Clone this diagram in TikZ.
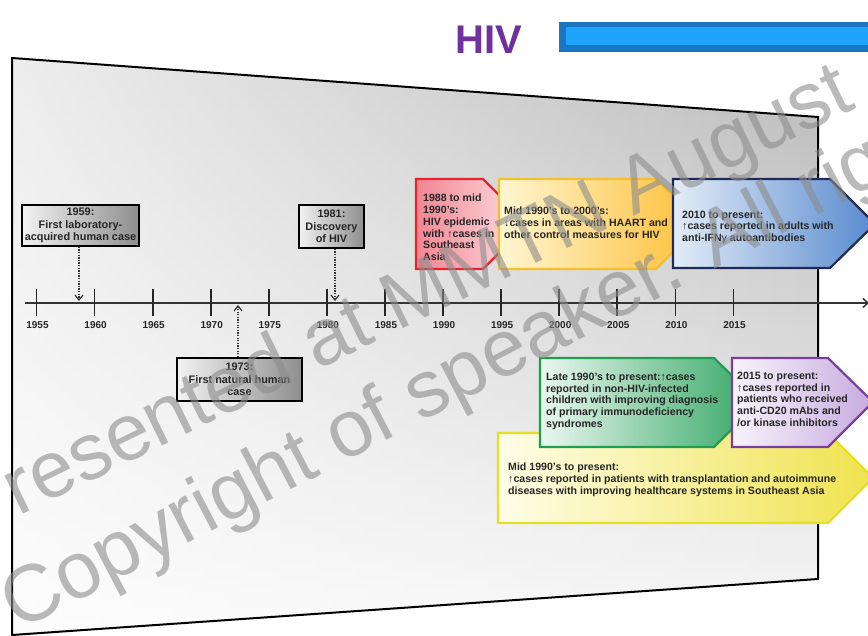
\documentclass[tikz,border=0pt]{standalone}
\usepackage{fontspec}
\setmainfont{Liberation Sans}
\usetikzlibrary{arrows.meta,fadings}
\definecolor{hivpurple}{HTML}{7030A0}
\definecolor{barDark}{HTML}{1B76C2}
\definecolor{barLight}{HTML}{1EA2FA}
\definecolor{txt}{HTML}{262626}
\definecolor{boxL}{HTML}{F2F2F2}
\definecolor{boxR}{HTML}{8E8E8E}
\definecolor{redB}{HTML}{E3262F}\definecolor{redL}{HTML}{F28593}\definecolor{redR}{HTML}{FDE2E5}
\definecolor{orgB}{HTML}{F6C02C}\definecolor{orgL}{HTML}{FFF6D2}\definecolor{orgR}{HTML}{FDBE35}
\definecolor{bluB}{HTML}{1F2A55}\definecolor{bluL}{HTML}{E4ECF7}\definecolor{bluR}{HTML}{578ACF}
\definecolor{grnB}{HTML}{1E9E4E}\definecolor{grnL}{HTML}{EAF7F0}\definecolor{grnR}{HTML}{33A663}
\definecolor{purB}{HTML}{7A3EA0}\definecolor{purL}{HTML}{F8F3FC}\definecolor{purR}{HTML}{C6ABDF}
\definecolor{yelB}{HTML}{E6DF28}\definecolor{yelL}{HTML}{FFFDE8}\definecolor{yelR}{HTML}{EFE34E}
\begin{document}
\begin{tikzpicture}[x=1pt,y=-1pt,
  evbox/.style={draw=black, line width=1.8pt, left color=boxL, right color=boxR,
    align=center, inner sep=0pt, text=txt,
    font=\bfseries\fontsize{10.9}{12.5}\selectfont},
  desc/.style={anchor=north west, align=left, inner sep=0pt, text=txt,
    font=\bfseries\fontsize{10.6}{11.9}\selectfont},
  arrbox/.style={line width=2.2pt, line join=miter},
  ticklbl/.style={font=\bfseries\fontsize{10}{10}\selectfont, text=txt, inner sep=0pt},
  tickline/.style={line width=1.7pt, draw=black!85},
  evarrow/.style={line width=1.3pt, draw=black!80, dash pattern=on 1.3pt off 1.3pt,
    -{Straight Barb[length=5pt,width=8pt,line width=1.2pt]}},
  wm/.style={inner sep=0pt, text=black!45, opacity=0.6,
    font=\fontsize{80}{80}\selectfont}
]
\useasboundingbox (0,0) rectangle (868,636);
\clip (0,0) rectangle (868,636);
\fill[white] (0,0) rectangle (868,636);

% title and bar
\node[anchor=base, inner sep=0pt, text=hivpurple,
      font=\bfseries\fontsize{40}{40}\selectfont] (title) at (489,54) {HIV};
\fill[barDark] (559,22) rectangle (872,52);
\fill[barLight] (566,27) rectangle (872,45);

% panel
\path[top color=black!27, middle color=black!14, bottom color=black!3]
  (12,58) -- (818,117) -- (818,579) -- (12,635) -- cycle;
\fill[white, path fading=east, fill opacity=0.75]
  (12,58) -- (818,117) -- (818,579) -- (12,635) -- cycle;
\draw[black, line width=2pt, line join=miter]
  (12,58) -- (818,117) -- (818,579) -- (12,635) -- cycle;

% axis
\coordinate (axL) at (25,303);
\coordinate (axR) at (869,303);
\draw[line width=1.5pt, draw=black!80, -{Straight Barb[length=5pt,width=9pt]}] (axL) -- (axR);
\foreach \yr [count=\i from 0] in {1955,1960,...,2015}{
  \pgfmathsetmacro\xx{36.5+\i*58.08}
  \draw[tickline] (\xx,289) -- (\xx,316);
  \node[ticklbl] (y\yr) at (\xx+1,325) {\yr};
}

% event boxes
\node[evbox, minimum width=117pt, minimum height=41pt] (b1959) at (80.5,225.5)
  {1959:\\First laboratory-\\acquired human case};
\node[evbox, minimum width=65pt, minimum height=43pt] (b1981) at (331.5,226.5)
  {1981:\\Discovery\\of HIV};
\node[evbox, minimum width=125pt, minimum height=43pt] (b1973) at (239.5,379.5)
  {1973:\\First natural human\\case};
\coordinate (t1959) at (79,301);
\coordinate (t1981) at (335,301);
\coordinate (t1973) at (238,305);
\draw[evarrow] (b1959.south -| t1959) -- (t1959);
\draw[evarrow] (b1981.south -| t1981) -- (t1981);
\draw[evarrow] (b1973.north -| t1973) -- (t1973);

% upper arrow boxes
\path[arrbox, draw=redB, left color=redL, right color=redR]
  (416,179) -- (483,179) -- (528,224) -- (483,269) -- (416,269) -- cycle;
\path[arrbox, draw=orgB, left color=orgL, right color=orgR]
  (499,179) -- (656,179) -- (701,224) -- (656,269) -- (499,269) -- cycle;
\path[arrbox, draw=bluB, left color=bluL, right color=bluR]
  (673,179) -- (830,179) -- (875,224) -- (830,268) -- (673,268) -- cycle;

% lower arrow boxes
\path[arrbox, draw=yelB, left color=yelL, right color=yelR]
  (498,433) -- (828,433) -- (873,478) -- (828,523) -- (498,523) -- cycle;
\path[arrbox, draw=grnB, left color=grnL, right color=grnR]
  (540,358) -- (714,358) -- (759,402) -- (714,447) -- (540,447) -- cycle;
\path[arrbox, draw=purB, left color=purL, right color=purR]
  (732,358) -- (828,358) -- (873,402) -- (828,447) -- (732,447) -- cycle;

% texts
\node[desc] (tRed) at (423,193.5)
  {1988 to mid\\1990’s:\\HIV epidemic\\with {\mdseries↑}cases in\\Southeast\\Asia};
\node[desc] (tOrg) at (504,206.5)
  {Mid 1990’s to 2000’s:\\{\mdseries↓}cases in areas with HAART and\\other control measures for HIV};
\node[desc] (tBlu) at (682,210.5)
  {2010 to present:\\{\mdseries↑}cases reported in adults with\\anti-IFN{\mdseries γ} autoantibodies};
\node[desc] (tGrn) at (546,372.5)
  {Late 1990’s to present:{\mdseries↑}cases\\reported in non-HIV-infected\\children with improving diagnosis\\of primary immunodeficiency\\syndromes};
\node[desc] (tPur) at (737,371.5)
  {2015 to present:\\{\mdseries↑}cases reported in\\patients who received\\anti-CD20 mAbs and\\/or kinase inhibitors};
\node[desc] (tYel) at (508,462.5)
  {Mid 1990’s to present:\\{\mdseries↑}cases reported in patients with transplantation and autoimmune\\diseases with improving healthcare systems in Southeast Asia};

% watermark
\node[wm, rotate=26, anchor=base west] (wm1) at (-30,540) {Presented at MMTN August};
\node[wm, rotate=27.5, anchor=base west] (wm2) at (18,632) {Copyright of speaker. All rights reserved};
\end{tikzpicture}
\end{document}
